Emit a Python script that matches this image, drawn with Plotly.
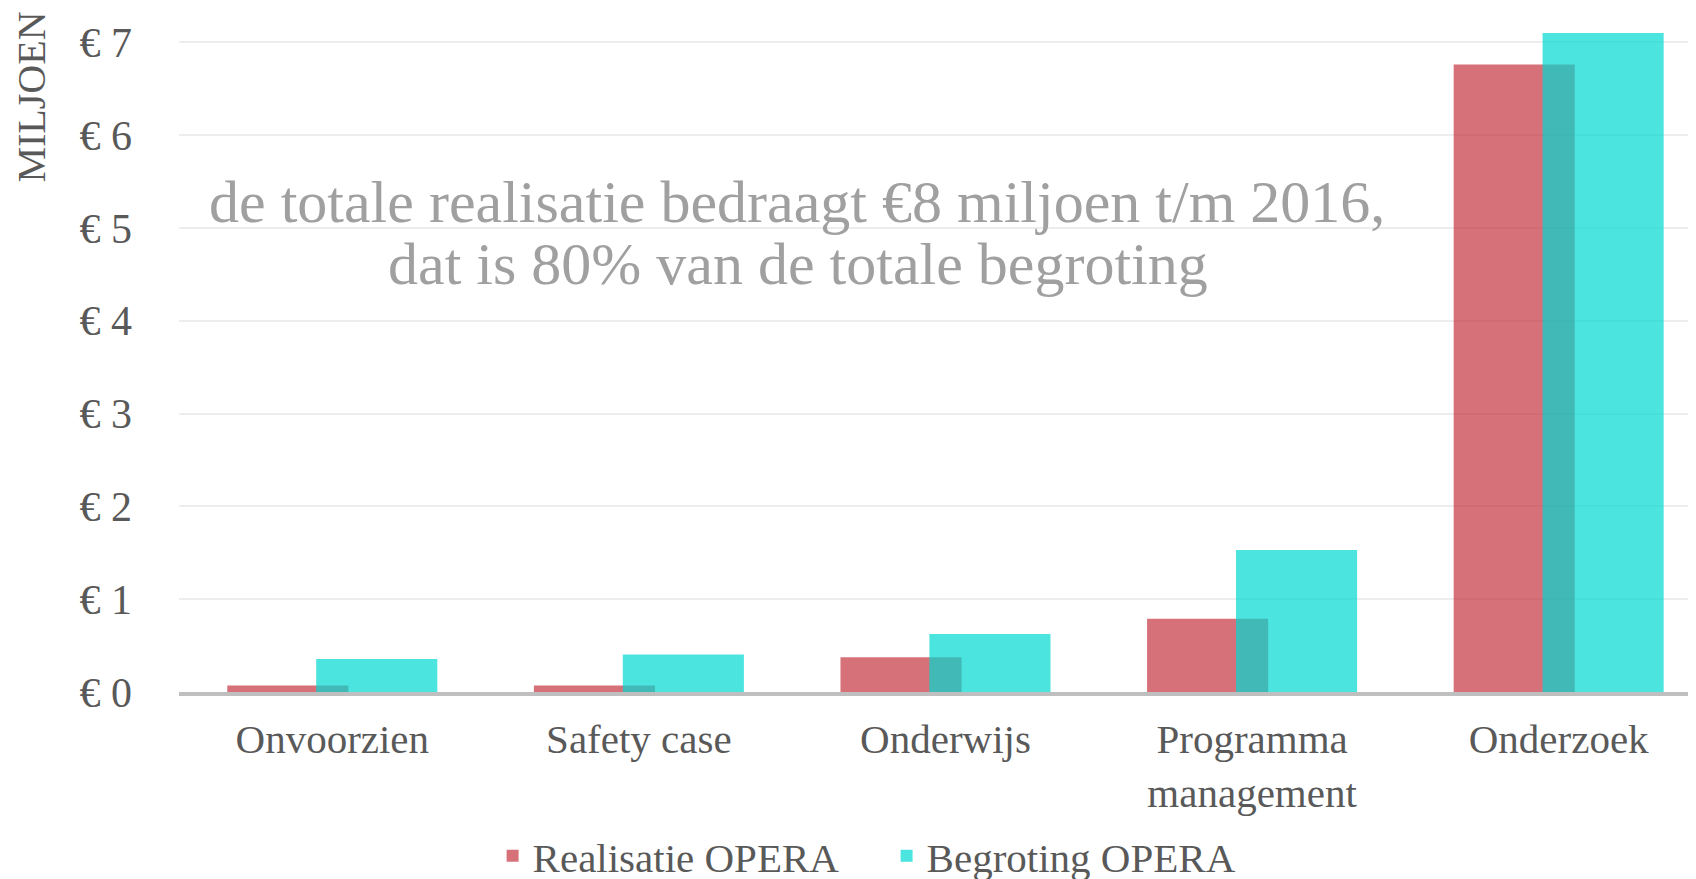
import plotly.graph_objects as go

categories = ["Onvoorzien", "Safety case", "Onderwijs", "Programma<br>management", "Onderzoek"]
realisatie = [0.07, 0.07, 0.375, 0.79, 6.76]
begroting = [0.355, 0.405, 0.625, 1.53, 7.10]
tick_vals = [0, 1, 2, 3, 4, 5, 6, 7]
tick_text = ["€ 0", "€ 1", "€ 2", "€ 3", "€ 4", "€ 5", "€ 6", "€ 7"]

FONT = "Liberation Serif"
TXT = "#595959"

fig = go.Figure()
fig.add_trace(go.Bar(
    x=categories, y=realisatie, name="Realisatie OPERA",
    marker=dict(color="rgba(195,45,58,0.68)", line=dict(width=0)),
    width=0.395, offset=-0.3425,
))
fig.add_trace(go.Bar(
    x=categories, y=begroting, name="Begroting OPERA",
    marker=dict(color="rgba(0,216,210,0.70)", line=dict(width=0)),
    width=0.395, offset=-0.0525,
))

fig.update_layout(
    width=1696, height=879,
    margin=dict(l=171, r=0, t=0, b=195, autoexpand=False),
    paper_bgcolor="white", plot_bgcolor="white",
    barmode="overlay",
    font=dict(family=FONT, size=41, color=TXT),
    legend=dict(orientation="h", x=0.4640, xanchor="center", y=-0.2398, yanchor="middle",
                font=dict(family=FONT, size=41, color=TXT), itemwidth=30, traceorder="normal",
                entrywidth=349),
    xaxis=dict(
        range=[-0.5, 4.474], showgrid=False, showline=True, linecolor="#BFBFBF", linewidth=4,
        ticks="", tickfont=dict(family=FONT, size=41, color=TXT), ticklabelstandoff=8,
        automargin=False,
    ),
    yaxis=dict(
        range=[0, 7.37], tickvals=tick_vals, ticktext=tick_text,
        showgrid=True, gridcolor="#EDEDED", gridwidth=2, zeroline=False, showline=False,
        ticks="", tickfont=dict(family=FONT, size=42, color=TXT), ticklabelstandoff=46,
        automargin=False,
    ),
    showlegend=True,
)

fig.add_annotation(text="MILJOEN", textangle=-90, xref="paper", yref="paper",
                   x=-0.0964, y=0.8705, xanchor="center", yanchor="middle", showarrow=False,
                   font=dict(family=FONT, size=40, color=TXT))
fig.add_annotation(text="de totale realisatie bedraagt €8 miljoen t/m 2016,", xref="paper", yref="paper",
                   x=0.4052, y=0.7164, xanchor="center", yanchor="middle", showarrow=False,
                   font=dict(family=FONT, size=60, color="#A0A0A0"))
fig.add_annotation(text="dat is 80% van de totale begroting", xref="paper", yref="paper",
                   x=0.4059, y=0.6257, xanchor="center", yanchor="middle", showarrow=False,
                   font=dict(family=FONT, size=60, color="#A0A0A0"))

fig.write_html("out.html")
